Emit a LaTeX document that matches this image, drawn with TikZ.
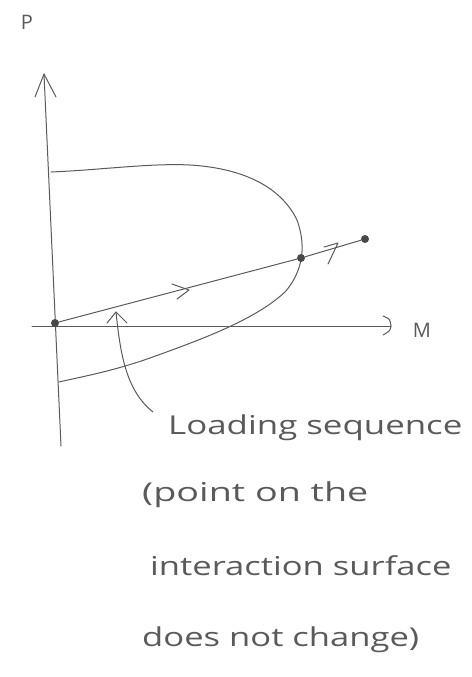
\documentclass[tikz,border=0pt]{standalone}
\usepackage{graphicx}
\usepackage{fontspec}
\setmainfont{Open Sans}
\usetikzlibrary{arrows.meta}
\definecolor{pencil}{HTML}{5A5A5A}
\newcommand{\handw}[2]{\scalebox{#1}[1]{#2}}
\begin{document}
\begin{tikzpicture}[x=1pt,y=-1pt,
  stroke/.style={draw=pencil,line width=1pt,line cap=round,line join=round},
  dotn/.style={circle,fill=pencil!80!black,inner sep=0pt,minimum size=8pt},
  hand/.style={text=pencil,font=\fontsize{26}{30}\selectfont,anchor=west,inner sep=0pt}]
\useasboundingbox (0,0) rectangle (471,677);
% labels
\node[text=pencil,font=\fontsize{20}{24}\selectfont] (P) at (27,22) {P};
\node[text=pencil,font=\fontsize{20}{24}\selectfont] (M) at (422,330) {M};
% axes
\coordinate (ytop) at (44,74);
\coordinate (ybot) at (61,446);
\coordinate (xl) at (32,326);
\coordinate (xr) at (391,326);
\draw[stroke] (ytop) -- (ybot);
\draw[stroke] (35,97) -- (ytop) -- (56,97);
\draw[stroke] (xl) -- (xr);
\draw[stroke] (383,316) .. controls (390,319) .. (391,326) .. controls (390,331) .. (383,335);
% interaction surface
\draw[stroke] (51,172) .. controls (100,170) and (150,163) .. (190,165)
  .. controls (240,168) and (280,185) .. (297,220)
  .. controls (308,250) and (300,275) .. (285,292)
  .. controls (255,320) and (200,340) .. (150,358)
  .. controls (110,372) and (80,377) .. (59,382);
% loading path
\node[dotn] (O) at (55,323) {};
\node[dotn] (A) at (301,258) {};
\node[dotn] (B) at (365,239) {};
\draw[stroke] (O) -- (A) -- (B);
\draw[stroke] (172,284) -- (189,290) -- (177,299);
\draw[stroke] (324,247) -- (338,243) -- (328,264);
% callout
\coordinate (tip) at (116,312);
\draw[stroke] (107,323) -- (tip) -- (127,323);
\draw[stroke] (tip) .. controls (120,350) and (125,390) .. (153,412);
% text
\node[hand] (t1) at (168,428) {\handw{1.34}{Loading sequence}};
\node[hand] (t2) at (142,495) {\handw{1.45}{(point on the}};
\node[hand] (t3) at (150,566) {\handw{1.33}{interaction surface}};
\node[hand] (t4) at (142,640) {\handw{1.33}{does not change)}};
\end{tikzpicture}
\end{document}
